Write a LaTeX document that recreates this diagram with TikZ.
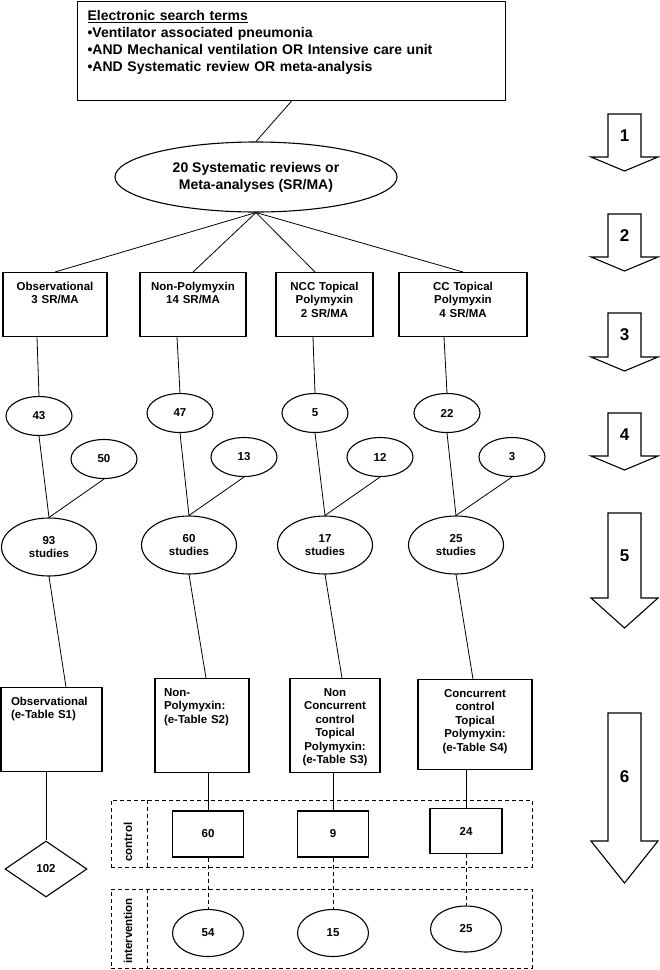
\documentclass[tikz,border=0pt]{standalone}
\usepackage{fontspec}
\setmainfont{Liberation Sans}
\usetikzlibrary{shapes.geometric}

% big hollow arrow on the right: name, top, head start, tip, number
\newcommand{\steparrow}[5]{%
  \draw[steparrow] (608,#2) -- (641,#2) -- (641,#3) -- (658,#3) -- (624.5,#4) -- (591,#3) -- (608,#3) -- cycle;
  \node[steplabel] (#1) at (624.5,{(#2+#3)/2}) {#5};
}

\begin{document}
\begin{tikzpicture}[
  x=1pt, y=-1pt,
  font=\fontsize{11.5}{13.5}\selectfont\bfseries,
  box/.style={
    draw,
    line width=1.1pt,
    anchor=north,
    inner xsep=4pt,
    inner ysep=8.5pt,
    text height=9pt
  },
  oval/.style={draw, ellipse, line width=1.1pt, inner sep=0pt},
  cbox/.style={draw, line width=1.1pt, minimum width=71, minimum height=46, inner sep=0pt},
  frame/.style={draw, line width=0.8pt, dash pattern=on 4pt off 3pt, inner sep=0pt},
  link/.style={line width=0.8pt},
  dlink/.style={line width=0.8pt, dash pattern=on 4pt off 3pt},
  steparrow/.style={draw, line width=1.1pt},
  steplabel/.style={font=\fontsize{17}{20}\selectfont\bfseries}
]

\useasboundingbox (0,0) rectangle (660,970);

\node[box, anchor=north west, align=left, text width=408pt, inner xsep=10pt, inner ysep=8pt,
  text height=11pt, text depth=72pt, font=\fontsize{14}{17}\selectfont\bfseries] (search) at (77,1)
  {\underline{Electronic search terms}\\•Ventilator associated pneumonia\\•AND Mechanical ventilation OR Intensive care unit\\•AND Systematic review OR meta-analysis};

\node[oval, minimum width=282, minimum height=70, align=center,
  font=\fontsize{14}{17}\selectfont\bfseries] (srma) at (256,177) {20 Systematic reviews or\\Meta-analyses (SR/MA)};

% review groups
\node[box, text width=96pt, align=center, text depth=38pt] (obs) at (55,272) {Observational\\3 SR/MA};
\node[box, text width=98pt, align=center, text depth=38pt] (nonp) at (193,272) {Non-Polymyxin\\14 SR/MA};
\node[box, text width=89pt, align=center, text depth=38pt] (ncc) at (324.5,272) {NCC Topical\\Polymyxin\\2 SR/MA};
\node[box, text width=120pt, align=center, text depth=38pt] (cc) at (463,272) {CC Topical\\Polymyxin\\4 SR/MA};

% study counts
\node[oval, minimum width=66, minimum height=39] (n43) at (39,416) {43};
\node[oval, minimum width=66, minimum height=39] (n47) at (180,413) {47};
\node[oval, minimum width=66, minimum height=39] (n5) at (315,413) {5};
\node[oval, minimum width=66, minimum height=39] (n22) at (447,413) {22};
\node[oval, minimum width=66, minimum height=39] (n50) at (104,459) {50};
\node[oval, minimum width=66, minimum height=39] (n13) at (244,457) {13};
\node[oval, minimum width=66, minimum height=39] (n12) at (380,457) {12};
\node[oval, minimum width=66, minimum height=39] (n3) at (512,457) {3};

\node[oval, minimum width=95, minimum height=58, align=center] (s93) at (49,547) {93\\studies};
\node[oval, minimum width=95, minimum height=58, align=center] (s60) at (189,545) {60\\studies};
\node[oval, minimum width=95, minimum height=58, align=center] (s17) at (325,545) {17\\studies};
\node[oval, minimum width=95, minimum height=58, align=center] (s25) at (456,545) {25\\studies};

% e-tables
\node[box, text width=81pt, inner xsep=10pt, align=left, text depth=58pt] (tobs) at (51.5,687) {Observational\\(e-Table S1)};
\node[box, text width=76pt, inner xsep=9pt, align=left, text depth=68pt] (tnonp) at (202,678) {Non-\\Polymyxin:\\(e-Table S2)};
\node[box, text width=82pt, align=center, text depth=68pt] (tncc) at (335,678) {Non\\Concurrent\\control\\Topical\\Polymyxin:\\(e-Table S3)};
\node[box, text width=106pt, align=center, text depth=64pt] (tcc) at (475,679) {Concurrent\\control\\Topical\\Polymyxin:\\(e-Table S4)};

\node[draw, diamond, line width=1.1pt, minimum width=82, minimum height=56, inner sep=0pt] (d102) at (46,869) {102};

% control / intervention
\node[frame, minimum width=421, minimum height=67] (ctrl) at (321.5,833.5) {};
\node[frame, minimum width=421, minimum height=79] (intv) at (321.5,928.5) {};
\draw[frame] ([xshift=37pt]ctrl.north west) -- ([xshift=37pt]ctrl.south west);
\draw[frame] ([xshift=37pt]intv.north west) -- ([xshift=37pt]intv.south west);
\node[rotate=90] (lctrl) at (128,842) {control};
\node[rotate=90] (lintv) at (128,931) {intervention};

\node[cbox] (c60) at (208,834) {60};
\node[cbox] (c9) at (333,834) {9};
\node[cbox, minimum width=72, minimum height=45] (c24) at (466,831) {24};
\node[oval, minimum width=71, minimum height=47] (i54) at (208,933) {54};
\node[oval, minimum width=71, minimum height=47] (i15) at (333,933) {15};
\node[oval, minimum width=71, minimum height=46] (i25) at (466,929) {25};

% connectors
\draw[link] (search.south) -- (srma.north);
\draw[link] (srma.south) -- (obs.north);
\draw[link] (srma.south) -- (nonp.north);
\draw[link] (srma.south) -- ([xshift=-9.5pt]ncc.north);
\draw[link] (srma.south) -- (cc.north);

\draw[link] ([xshift=-2pt]obs.south -| n43.north) -- (n43.north);
\draw[link] ([xshift=-3pt]nonp.south -| n47.north) -- (n47.north);
\draw[link] ([xshift=-2pt]ncc.south -| n5.north) -- (n5.north);
\draw[link] ([xshift=-3pt]cc.south -| n22.north) -- (n22.north);

\draw[link] (n43.south) -- (s93.north);
\draw[link] (n50.south) -- (s93.north);
\draw[link] (n47.south) -- (s60.north);
\draw[link] (n13.south) -- (s60.north);
\draw[link] (n5.south) -- (s17.north);
\draw[link] (n12.south) -- (s17.north);
\draw[link] (n22.south) -- (s25.north);
\draw[link] (n3.south) -- (s25.north);

\draw[link] (s93.south) -- ([xshift=14.5pt]tobs.north);
\draw[link] (s60.south) -- ([xshift=4pt]tnonp.north);
\draw[link] (s17.south) -- ([xshift=7pt]tncc.north);
\draw[link] (s25.south) -- ([xshift=-2pt]tcc.north);

\draw[link] (d102.north |- tobs.south) -- (d102.north);
\draw[link] (c60.north |- tnonp.south) -- (c60.north);
\draw[link] (c9.north |- tncc.south) -- (c9.north);
\draw[link] (c24.north |- tcc.south) -- (c24.north);

\draw[dlink] (c60.south) -- (i54.north);
\draw[dlink] (c9.south) -- (i15.north);
\draw[dlink] (c24.south) -- (i25.north);

% steps
\steparrow{st1}{114}{157}{171}{1}
\steparrow{st2}{214}{257}{271}{2}
\steparrow{st3}{313}{357}{371}{3}
\steparrow{st4}{413}{456}{470}{4}
\steparrow{st5}{513}{598}{628}{5}
\steparrow{st6}{713}{841}{883}{6}

\end{tikzpicture}
\end{document}
